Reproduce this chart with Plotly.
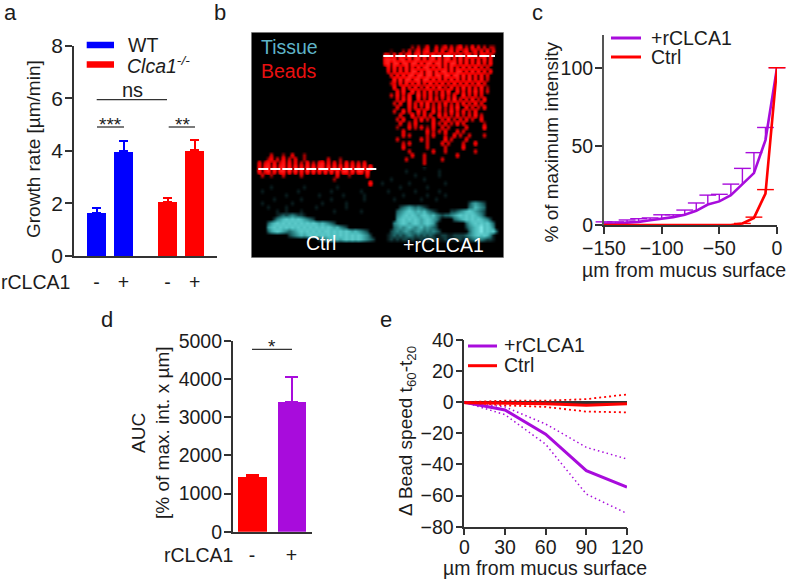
import plotly.graph_objects as go

W, H = 790, 580
FONT = "Liberation Sans"
INK = "#1c1c1c"
AX = "#333333"
BLUE = "#0000ff"
RED = "#ff0000"
PURPLE = "#a80cdc"

# panel a
a_x = [1, 2, 3.63, 4.63]
a_vals = [1.65, 3.98, 2.05, 4.02]
a_upper = [1.83, 4.37, 2.20, 4.42]
a_signs = ["-", "+", "-", "+"]
a_colors = [BLUE, BLUE, RED, RED]

# panel c
c_x = [-150, -140, -130, -120, -110, -100, -90, -80, -70, -60, -50, -40, -30, -20, -10, 0]
c_purple = [1, 1, 1.5, 2, 3, 4, 5, 6.5, 9, 13, 15, 19, 26, 33, 54, 100]
c_purple_up = [2, 2, 3.2, 4, 4.5, 6.5, 6.5, 9.5, 14, 19, 19.5, 26, 36, 46, 62, 100]
c_red = [0, 0, 0, 0, 0, 0, 0, 0, 0, 0, 0, 0, 1, 4.5, 20, 100]
c_red_up = [0, 0, 0, 0, 0, 0, 0, 0, 0, 0, 0, 0, 1, 5, 22.5, 100]

# panel d
d_x = [1, 2]
d_vals = [1430, 3400]
d_upper = [1480, 4060]
d_signs = ["-", "+"]

# panel e
e_x = [0, 30, 60, 90, 120]
e_purple = [0, -5, -20.5, -44, -54.5]
e_purple_hi = [0, -3, -14, -29, -36.5]
e_purple_lo = [0, -8, -27, -59, -71.5]
e_red = [-0.3, -0.5, -1, -2, -1]
e_red_hi = [0, 1, 1, 2, 5]
e_red_lo = [0, -2, -3, -6, -6.5]

# panel b: hand-read picture, digits = red level, letters = cyan level
b_rows = [
"|", "|", "|",
"|..........2.3.15..4.25.4.37.3.6.4.3.22",
"|...1...2.4.26.47.15.6.27.5.38.26.5.6.4",
"|.54.6.7.58.69.7.58.7.69.6.7.58.6.57.5.",
"|.8979.89.9.89.9.79.9.89.7.9.8.7.6.8.5.",
"|.79.99.89.99.9.99.99.8.99.7.8.6.8.5.6.",
"|..6.8.6.9.7.9.89.8.9.7.9.6.8.7.8.5.4..",
"|..4.6.7.8.99.8.99.9.99.8.99.7.9.8.6.5.",
"|...4.7.9.99.99.99.99.99.99.9.8.6.7.4..",
"|....8.9.99.99.99.9.8.7.9.8.7.9.6.7.3..",
"|...24.6.8.6.8.5.9.6.7.5.8.6.7.5.8.4...",
"|....6..7.5.7.4.8.6.9.4.7.5.8.6.5.7.2..",
"|.....5.7..8.6.5.7.4.6.8..7.5.6.8.5.3..",
"|...3.6.4.7..9.5.6.3.7.4.6..8.4.5.4....",
"|.....4.6.8..6.3.7.5.3.6.9.4.5.7.3.6...",
"|....3.5..7.4.6.8.3.4.7.3.5.6.4.7.4....",
"|.....4...6.5.3.8.4.6.3.5.8..6.4.3.5...",
"|....3..6.4..7.5..6.4.3.7.4.5.3.6......",
"|......4...7.3.5.4..7.5.3.6.3.4.7.3....",
"|.....3.5...4.6.3.5..4.6.3.4.5.3..5....",
"|......4..3.5.....6.3.5.3.6.4......2...",
"|.....2...5.3.4.2.5..4.3.....4.....6...",
"|.......4.......5.3.3.5...4.3..........",
"|.......4.3.....3.4...3..5.3..3....3...",
"|.....3.......4.3.....6.3....4.........",
"|.......3.4.....3....4.3....3...5......",
"|.......5.......3.....3.....5..........",
"|.........3.......4...3.........3......",
"......3...2..4...2.....|..........4...3..........4......",
".....25.3.6.3.4..2.......3...2.|........3.....3.....3......",
"..5.47.6.38.6.5.3.6.3.58.5.5.3.6.5.4.5|..............3........",
"..6.89.9.79.8.9.7.9.8.99.9.9.8.9.9.9.8.9|..............a........",
"..7.59.7.89.9.9.7.9.9.8.9.9.9.99.9.99.9.|........a..........a...",
"...3..2...3.....3...........5...2.....5..|...........a.......a..",
"...........................2.............|...a..........a.......",
".......................................7.|a........a...........a",
"......a..........a..........a............|......a........a......",
"...a...........a..........a.........a....|..a........a.......a..",
"...........a..........a.......a......a...|.......a.......a.....a",
".......a........a.........a..........a...|....a........a....a...",
"...a.........a.........a.......a.........|.............................bdedcb",
".....a.....a.........a.........a.........|......bcdedcdcba.............cdfedc",
"........a..a....a..........a........a....|.....cdefgfefefdcba....bbcdefgfedcb",
"........abcbcdcbba.......................|.....defgfgfefgfefdcbccdefgfgfgfedb",
".......bdefgfgfgfedcb....................|.....efgfgfgfefgfedb....cdefgfgfgfedb",
".....cefgfgfgfgfgfgfgfefedcb.............|....defgfefgfefgfeb.........cefgfgfgec",
".....efgfgfgfgfgfgfgfgfgfgfefdcb.........|....cdedefedefdedcb.........bdefgifgfd",
".....cefgfedcdefgfgfgfgfggfgfgfgfefedcb..|...bcdcdedcdedcdcdcb.........cefgifgfgc",
"............bcdefefgfgfgfgfgfgfgfgfgfedb.|..abcbcbcdcbcbcbcbaabbaabbbbcdefgfgfda",
"......................bcdefefefgfgfgfedcb|..abababbabaabababaaabaaabbabbcdcdcbba",
"|", "|", "|", "|", "|", "|",
]


def rows_to_z(rows):
    z = []
    for row in rows:
        left, right = row.split("|")
        text = left.ljust(43, ".")[:43] + right.ljust(41, ".")[:41]
        out = []
        for ch in text:
            if ch.isdigit():
                out.append(int(ch))
            elif ch.isalpha():
                out.append(-(ord(ch) - ord("a") + 1))
            else:
                out.append(0)
        z.append(out)
    return z


def dx(a, b):
    return [a / W, b / W]


def dy(top, bottom):
    return [1 - bottom / H, 1 - top / H]


fig = go.Figure()

# ---- panel a
for i in range(4):
    fig.add_trace(go.Bar(
        x=[a_x[i]], y=[a_vals[i]], width=0.72, marker=dict(color=a_colors[i], line_width=0),
        error_y=dict(type="data", symmetric=False, array=[a_upper[i] - a_vals[i]], arrayminus=[0],
                     color=a_colors[i], thickness=2, width=4.5),
        xaxis="x", yaxis="y", showlegend=False))

# ---- panel b
fig.add_trace(go.Heatmap(z=rows_to_z(b_rows), zmin=-9, zmax=9, zsmooth="best", showscale=False, hoverinfo="skip",
                         colorscale=[[0, "#80e8e8"], [0.17, "#4cbcbc"], [0.33, "#1e6a6c"], [0.44, "#0a2022"],
                                     [0.5, "#000000"],
                                     [0.55, "#500000"], [0.61, "#b80000"], [0.72, "#f40000"], [1, "#ff2020"]],
                         xaxis="x2", yaxis="y2"))

# ---- panel c
for ys, ups, col, name in [(c_purple, c_purple_up, PURPLE, "+rCLCA1"), (c_red, c_red_up, RED, "Ctrl")]:
    fig.add_trace(go.Scatter(x=c_x, y=ys, mode="lines", name=name, line=dict(color=col, width=2.6),
                             error_y=dict(type="data", symmetric=False,
                                          array=[u - v for u, v in zip(ups, ys)],
                                          arrayminus=[0] * len(c_x), color=col, thickness=1.4, width=0),
                             xaxis="x3", yaxis="y3", showlegend=False, cliponaxis=False))
    fig.add_trace(go.Scatter(x=c_x, y=ups, mode="markers",
                             marker=dict(symbol="line-ew", size=12, color=col, line=dict(color=col, width=1.4)),
                             xaxis="x3", yaxis="y3", showlegend=False, cliponaxis=False))

# ---- panel d
for i, col in enumerate([RED, PURPLE]):
    fig.add_trace(go.Bar(
        x=[d_x[i]], y=[d_vals[i]], width=0.72, marker=dict(color=col, line_width=0),
        error_y=dict(type="data", symmetric=False, array=[d_upper[i] - d_vals[i]], arrayminus=[0],
                     color=col, thickness=2, width=6.5),
        xaxis="x4", yaxis="y4", showlegend=False))

# ---- panel e
for ys, col, wd, dash in [
    (e_purple_hi, PURPLE, 1.5, "1.5px,3px"), (e_purple_lo, PURPLE, 1.5, "1.5px,3px"),
    (e_purple, PURPLE, 3, "solid"),
    (e_red_hi, RED, 1.8, "2px,3px"), (e_red_lo, RED, 1.8, "2px,3px"),
    (e_red, RED, 3, "solid"),
]:
    fig.add_trace(go.Scatter(x=e_x, y=ys, mode="lines", line=dict(color=col, width=wd, dash=dash),
                             xaxis="x5", yaxis="y5", showlegend=False, cliponaxis=False))

tickfont = dict(family=FONT, size=19.5, color=INK)
common = dict(showgrid=False, zeroline=False, showline=True, linecolor=AX, linewidth=1.5, automargin=False,
              tickcolor=AX, tickwidth=1.5, ticklen=7, ticks="outside", tickfont=tickfont, ticklabelstandoff=-2)
blank_ticks = dict(ticks="outside", tickcolor="rgba(0,0,0,0)", tickwidth=1, ticklabelstandoff=0)

fig.update_layout(
    template="none",
    width=W, height=H, autosize=False, margin=dict(l=0, r=0, t=0, b=0, pad=0),
    paper_bgcolor="white", plot_bgcolor="white", barmode="overlay", bargap=0,
    font=dict(family=FONT, color=INK, size=19.5),
    xaxis=dict(**{**common, **blank_ticks, "ticklen": 8}, domain=dx(74, 217), anchor="y", range=[0.167, 5.46],
               tickvals=a_x, ticktext=a_signs),
    yaxis=dict(**{**common, "tickfont": dict(family=FONT, size=21, color=INK)}, domain=dy(45.7, 256), anchor="x",
               range=[0, 8], tickvals=[0, 2, 4, 6, 8]),
    xaxis2=dict(domain=dx(251.5, 503.5), anchor="y2", range=[-0.5, 83.5], visible=False),
    yaxis2=dict(domain=dy(33, 257), anchor="x2", range=[55.5, -0.5], visible=False),
    xaxis3=dict(**common, domain=dx(604, 777), anchor="y3", range=[-150, 0], tickvals=[-150, -100, -50, 0]),
    yaxis3=dict(**{**common, "linewidth": 2, "linecolor": "#555555"}, domain=dy(35, 225), anchor="x3",
                range=[0, 120.8], tickvals=[0, 50, 100]),
    xaxis4=dict(**{**common, **blank_ticks, "ticklen": 5}, domain=dx(232.7, 311.7), anchor="y4", range=[0.511, 2.511],
                tickvals=d_x, ticktext=d_signs),
    yaxis4=dict(**common, domain=dy(340.7, 531.7), anchor="x4", range=[0, 5000],
                tickvals=[0, 1000, 2000, 3000, 4000, 5000]),
    xaxis5=dict(**{**common, "ticklabelstandoff": -5}, domain=dx(464.3, 627), anchor="y5", range=[0, 120], tickvals=e_x),
    yaxis5=dict(**{**common, "zeroline": True, "zerolinecolor": AX, "zerolinewidth": 2.5},
                domain=dy(340, 526.7), anchor="x5", range=[-80, 40],
                tickvals=[-80, -60, -40, -20, 0, 20, 40]),
)


def text(x, y, s, size=19.5, color=INK, angle=0, anchor="center"):
    fig.add_annotation(x=x / W, y=1 - y / H, xref="paper", yref="paper", text=s, showarrow=False,
                       font=dict(family=FONT, size=size, color=color), textangle=angle,
                       xanchor=anchor, yanchor="middle", borderpad=0, borderwidth=0)


def line(x0, y0, x1, y1, color=AX, width=1.3, dash="solid"):
    fig.add_shape(type="line", xref="paper", yref="paper", x0=x0 / W, x1=x1 / W, y0=1 - y0 / H, y1=1 - y1 / H,
                  line=dict(color=color, width=width, dash=dash))


# panel letters
text(10, 13, "a", 22)
text(220, 13, "b", 22)
text(537, 13, "c", 22)
text(107, 319, "d", 22)
text(386, 319, "e", 22)

# panel a annotations
text(33, 149, "Growth rate [µm/min]", 19, angle=-90)
text(1, 282, "rCLCA1", 19.5, anchor="left")
line(86.7, 45, 114, 45, BLUE, 6.5)
line(86.7, 64.5, 114, 64.5, RED, 6.5)
text(128, 45, "WT", 19.5, anchor="left")
text(127, 65, "<i>Clca1</i><sup><i>-/-</i></sup>", 19.5, anchor="left")
line(96.7, 99.7, 167, 99.7)
text(132, 90.5, "ns", 20)
line(97, 127, 124, 127)
line(168.7, 127, 195, 127)
text(110.5, 124.5, "***", 19)
text(182, 124.5, "**", 19)

# panel b annotations
fig.add_shape(type="rect", xref="paper", yref="paper", x0=251.5 / W, x1=503.5 / W, y0=1 - 257.5 / H, y1=1 - 32.5 / H,
              line=dict(color="#777777", width=1))
line(258.3, 169, 377.7, 169, "#ffffff", 2, "10px,2px")
line(383.3, 56, 495, 56, "#ffffff", 2, "10px,2px")
text(260.5, 47, "Tissue", 19.5, "#5fb4c8", anchor="left")
text(260.5, 71, "Beads", 19.5, "#e81010", anchor="left")
text(320.5, 243, "Ctrl", 19.5, "#ffffff")
text(443, 245, "+rCLCA1", 19.5, "#ffffff")

# panel c annotations
text(551.5, 142, "% of maximum intensity", 19, angle=-90)
text(684, 270, "µm from mucus surface", 19.5)
line(611, 38, 641, 38, PURPLE, 3)
line(611, 57, 641, 57, RED, 3)
text(651, 38, "+rCLCA1", 19.5, anchor="left")
text(651, 57, "Ctrl", 19.5, anchor="left")

# panel d annotations
text(138, 433, "AUC", 19, angle=-90)
text(162, 433, "[% of max. int. x µm]", 19, angle=-90)
text(233, 555, "rCLCA1", 19.5, anchor="right")
line(252, 349.3, 292, 349.3)
text(272, 346, "*", 19)

# panel e annotations
text(407, 431, "Δ Bead speed t<sub>60</sub>-t<sub>20</sub>", 19, angle=-90)
text(545, 568, "µm from mucus surface", 19.5)
line(468, 346, 497, 346, PURPLE, 3)
line(468, 365.7, 497, 365.7, RED, 3)
text(504, 345, "+rCLCA1", 19.5, anchor="left")
text(504, 365, "Ctrl", 19.5, anchor="left")

fig.write_html("out.html", config={"displayModeBar": False}, post_script="document.body.style.margin='0';")
